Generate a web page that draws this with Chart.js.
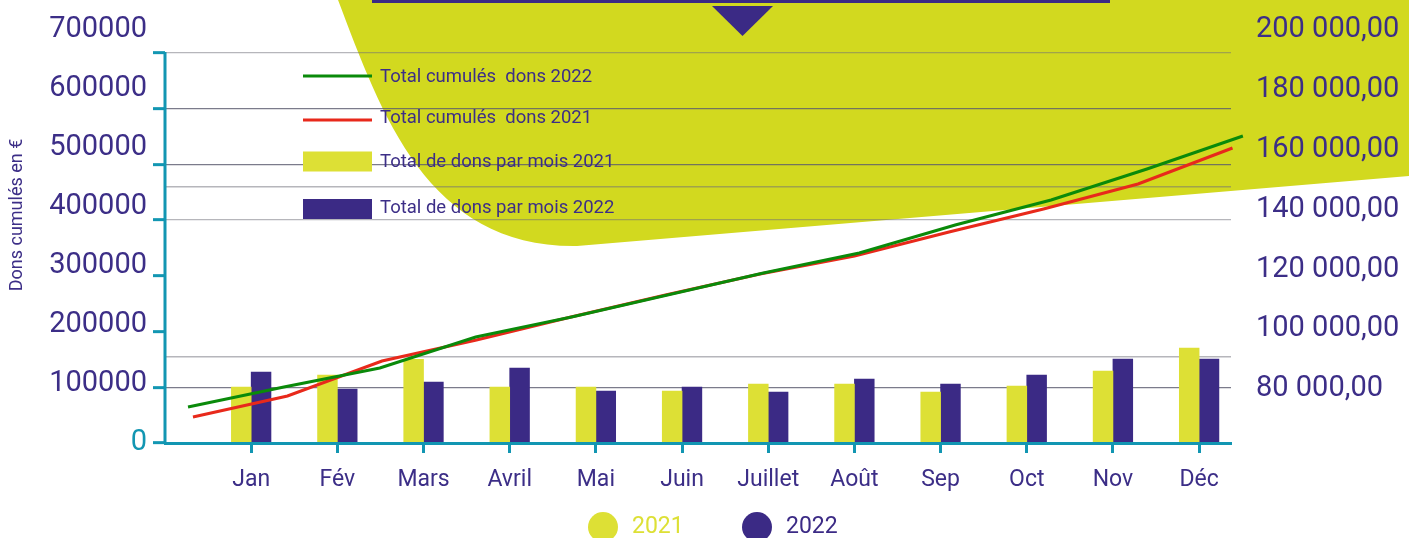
<!DOCTYPE html>
<html lang="fr">
<head>
<meta charset="utf-8">
<title>Dons 2021 / 2022</title>
<script src="https://cdn.jsdelivr.net/npm/chart.js@4.4.1/dist/chart.umd.min.js"></script>
<style>
  html, body { margin: 0; padding: 0; background: #fff; }
  #wrap { width: 1409px; height: 538px; position: relative; }
</style>
</head>
<body>
<div id="wrap"><canvas id="donsChart"></canvas></div>
<script>
// Mois de l'axe X
const months = ["Jan", "Fév", "Mars", "Avril", "Mai", "Juin", "Juillet", "Août", "Sep", "Oct", "Nov", "Déc"];

// Total de dons par mois (barres)
const dons2021 = [100500, 122000, 150200, 100500, 100500, 93300, 105900, 105900, 91500, 102300, 129200, 170500];
const dons2022 = [127400, 96900, 109500, 134600, 93300, 100500, 91500, 114900, 105900, 122000, 150800, 150800];

// Total cumulé des dons (courbes)
const cumul2021 = [46700, 84400, 147200, 184900, 226200, 265600, 303300, 335600, 378700, 420000, 464900, 529500];
const cumul2022 = [64600, 100500, 134600, 190300, 226200, 265600, 305100, 341000, 391300, 436200, 491800, 551000];

// Graduations des axes
const leftTicks = [0, 100000, 200000, 300000, 400000, 500000, 600000, 700000];
const rightTicks = [80000, 100000, 120000, 140000, 160000, 180000, 200000];

// Couleurs
const TEXT = "#3c2e87";
const PURPLE = "#3b2a85";
const YELLOW = "#dde035";
const BLOB = "#d2d91f";
const TEAL = "#1296b2";
const GREEN = "#0a8a0a";
const RED = "#e8291b";
const GRID_LIGHT = "rgba(110, 110, 120, 0.5)";
const GRID_DARK = "rgba(90, 90, 110, 0.8)";

// Format français : "200 000,00"
function formatFr(v) {
    return Math.round(v).toString().replace(/\B(?=(\d{3})+(?!\d))/g, " ") + ",00";
}

// Dessins hors données : forme de fond, légendes, titre de l'axe
const decorPlugin = {
    id: "decor",
    beforeDraw(chart) {
        const ctx = chart.ctx;
        ctx.save();
        // grande forme verte derrière le graphique
        ctx.fillStyle = BLOB;
        ctx.beginPath();
        ctx.moveTo(335, -8);
        ctx.bezierCurveTo(380, 110, 425, 248, 577, 246);
        ctx.lineTo(1409, 176);
        ctx.lineTo(1409, -8);
        ctx.closePath();
        ctx.fill();
        // bandeau violet et petite flèche
        ctx.fillStyle = PURPLE;
        ctx.fillRect(372, 0, 738, 3);
        ctx.beginPath();
        ctx.moveTo(712, 6);
        ctx.lineTo(773, 6);
        ctx.lineTo(742.5, 36);
        ctx.closePath();
        ctx.fill();
        ctx.restore();
    },
    beforeDatasetsDraw(chart) {
        const ctx = chart.ctx;
        const yScale = chart.scales.y;
        ctx.save();
        // ligne de l'axe gauche (de 0 à 700000 seulement)
        ctx.strokeStyle = TEAL;
        ctx.lineWidth = 3;
        ctx.beginPath();
        ctx.moveTo(chart.chartArea.left, yScale.getPixelForValue(leftTicks[leftTicks.length - 1]) - 1);
        ctx.lineTo(chart.chartArea.left, chart.chartArea.bottom);
        ctx.stroke();

        // légende verticale en haut à gauche
        const symRows = [76, 120, 161.5, 209];
        const textRows = [77, 118, 162, 208];
        ctx.font = "18.5px Roboto";
        ctx.textBaseline = "middle";
        ctx.textAlign = "left";
        chart.data.datasets.forEach((ds, i) => {
            if (ds.type === "line") {
                ctx.strokeStyle = ds.borderColor;
                ctx.lineWidth = 3;
                ctx.beginPath();
                ctx.moveTo(303, symRows[i]);
                ctx.lineTo(372, symRows[i]);
                ctx.stroke();
            } else {
                ctx.fillStyle = ds.backgroundColor;
                ctx.fillRect(303, symRows[i] - 10, 69, 20);
            }
            ctx.fillStyle = TEXT;
            ctx.fillText(ds.label, 380, textRows[i]);
        });
        ctx.restore();
    },
    afterDraw(chart) {
        const ctx = chart.ctx;
        ctx.save();
        // légende du bas : 2021 / 2022
        const items = [
            { text: "2021", color: YELLOW, cx: 603 },
            { text: "2022", color: PURPLE, cx: 757 }
        ];
        ctx.font = "23px Roboto";
        ctx.textBaseline = "middle";
        items.forEach(it => {
            ctx.fillStyle = it.color;
            ctx.beginPath();
            ctx.arc(it.cx, 527, 15, 0, Math.PI * 2);
            ctx.fill();
            ctx.fillText(it.text, it.cx + 29, 527);
        });
        // titre vertical de l'axe gauche
        ctx.translate(17.5, 215);
        ctx.rotate(-Math.PI / 2);
        ctx.textAlign = "center";
        ctx.font = "18px Roboto";
        ctx.fillStyle = TEXT;
        ctx.fillText("Dons cumulés en €", 0, 0);
        ctx.restore();
    }
};

document.addEventListener("DOMContentLoaded", () => {
    Chart.defaults.font.family = "Roboto";
    const ctx = document.getElementById("donsChart").getContext("2d");

    new Chart(ctx, {
        type: "bar",
        data: {
            datasets: [
                {
                    type: "line",
                    label: "Total cumulés  dons 2022",
                    data: cumul2022.map((v, i) => ({ x: i, y: v })),
                    borderColor: GREEN,
                    borderWidth: 3,
                    pointRadius: 0,
                    tension: 0,
                    clip: false,
                    xAxisID: "xg",
                    yAxisID: "y",
                    order: 0
                },
                {
                    type: "line",
                    label: "Total cumulés  dons 2021",
                    data: cumul2021.map((v, i) => ({ x: i, y: v })),
                    borderColor: RED,
                    borderWidth: 3,
                    pointRadius: 0,
                    tension: 0,
                    clip: false,
                    xAxisID: "xr",
                    yAxisID: "y",
                    order: 0
                },
                {
                    label: "Total de dons par mois 2021",
                    data: dons2021.map((v, i) => ({ x: i + 1, y: v })),
                    backgroundColor: YELLOW,
                    barThickness: 19.8,
                    xAxisID: "x",
                    yAxisID: "y",
                    order: 1
                },
                {
                    label: "Total de dons par mois 2022",
                    data: dons2022.map((v, i) => ({ x: i + 1, y: v })),
                    backgroundColor: PURPLE,
                    barThickness: 19.8,
                    xAxisID: "x",
                    yAxisID: "y",
                    order: 1
                }
            ]
        },
        options: {
            responsive: true,
            maintainAspectRatio: false,
            animation: false,
            layout: { padding: { top: 30, left: 0, right: 0, bottom: 0 } },
            plugins: {
                legend: { display: false },
                tooltip: { enabled: false }
            },
            scales: {
                x: {
                    type: "linear",
                    position: "bottom",
                    offset: false,
                    min: 0,
                    max: 12.37,
                    afterBuildTicks: s => { s.ticks = months.map((m, i) => ({ value: i + 1 })); },
                    afterFit: s => { s.height = 95; },
                    ticks: {
                        callback: v => months[v - 1],
                        color: TEXT,
                        font: { size: 23 },
                        padding: 13,
                        autoSkip: false,
                        maxRotation: 0
                    },
                    grid: { offset: false, drawOnChartArea: false, tickLength: 10, tickColor: TEAL, tickWidth: 3 },
                    border: { color: TEAL, width: 3, z: 1 }
                },
                // axes cachés pour placer les courbes
                xg: { type: "linear", display: false, offset: false, grid: { offset: false }, min: -0.24, max: 10.876 },
                xr: { type: "linear", display: false, offset: false, grid: { offset: false }, min: -0.296, max: 10.984 },
                y: {
                    position: "left",
                    min: 0,
                    max: 741282,
                    afterBuildTicks: s => { s.ticks = leftTicks.map(v => ({ value: v })); },
                    afterFit: s => { s.width = 12; },
                    ticks: { display: false, padding: 0 },
                    grid: {
                        color: c => {
                            const v = c.tick ? c.tick.value : null;
                            if (v === 100000 || v === 500000 || v === 600000) return GRID_DARK;
                            if (v === 400000 || v === 700000) return GRID_LIGHT;
                            return "rgba(0,0,0,0)";
                        },
                        lineWidth: 1.3,
                        tickLength: 12,
                        tickColor: TEAL,
                        tickWidth: 3
                    },
                    border: { display: false }
                },
                yl: {
                    position: "left",
                    weight: 1,
                    min: 0,
                    max: 700000,
                    afterBuildTicks: s => { s.ticks = leftTicks.map(v => ({ value: v })); },
                    afterFit: s => { s.width = 153; },
                    ticks: {
                        callback: v => String(v),
                        color: c => (c.tick && c.tick.value === 0 ? TEAL : TEXT),
                        font: { size: 29 },
                        padding: 6
                    },
                    grid: { display: false, drawTicks: false },
                    border: { display: false }
                },
                yr: {
                    position: "right",
                    min: 61950,
                    max: 200000,
                    afterBuildTicks: s => { s.ticks = rightTicks.map(v => ({ value: v })); },
                    afterFit: s => { s.width = 178; },
                    ticks: {
                        callback: v => formatFr(v),
                        color: TEXT,
                        font: { size: 29 },
                        padding: 12
                    },
                    grid: { display: false, drawTicks: true, tickLength: 13 },
                    border: { display: false }
                },
                // deux lignes de repère supplémentaires
                yg: {
                    position: "right",
                    weight: 1,
                    min: 0,
                    max: 741282,
                    afterBuildTicks: s => { s.ticks = [154400, 459500].map(v => ({ value: v })); },
                    afterFit: s => { s.width = 0; },
                    ticks: { display: false, padding: 0 },
                    grid: { color: GRID_LIGHT, lineWidth: 1.6, drawTicks: false },
                    border: { display: false }
                }
            }
        },
        plugins: [decorPlugin]
    });
});
</script>
</body>
</html>
